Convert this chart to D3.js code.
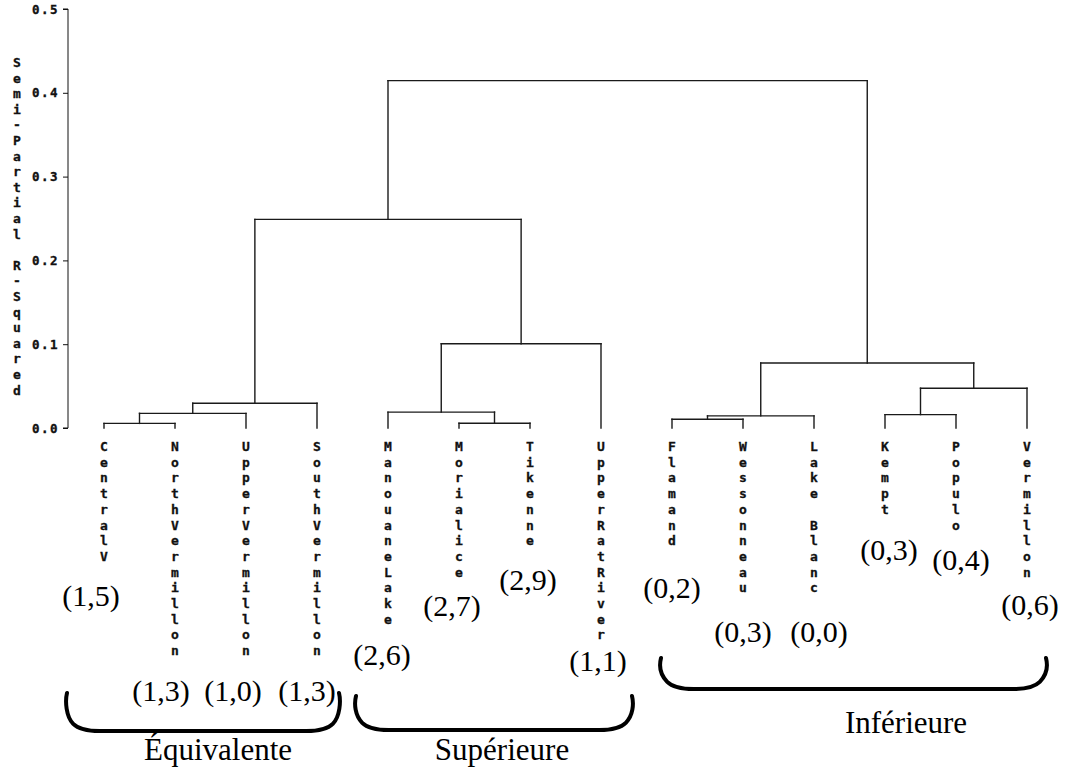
<!DOCTYPE html>
<html><head><meta charset="utf-8">
<script src="https://cdn.jsdelivr.net/npm/d3@7"></script>
<style>
body{margin:0;background:#fff;}
svg{display:block;}
.mono{font-family:"DejaVu Sans Mono",monospace;font-weight:bold;}
.serif{font-family:"Liberation Serif","Times New Roman",serif;}
</style></head>
<body>
<script>
// ---- data ----
const leaves = ["CentralV","NorthVermillon","UpperVermillon","SouthVermillon",
  "ManouaneLake","Morialice","Tikenne","UpperRatRiver",
  "Flamand","Wessonneau","Lake Blanc","Kempt","Populo","Vermillon"];
// merges: [childA, childB, semi-partial R-squared]; new node ids start at leaves.length
const mergeA = [0, 14, 15, 5, 4, 18, 16, 8, 21, 11, 23, 22, 20];
const mergeB = [1, 2, 3, 6, 17, 7, 19, 9, 10, 12, 13, 24, 25];
const mergeH = [0.0055, 0.0175, 0.0295, 0.0057, 0.019, 0.1005, 0.249, 0.0105, 0.0145, 0.016, 0.0475, 0.0775, 0.4145];
const yTicks = [0.0, 0.1, 0.2, 0.3, 0.4, 0.5];
const codes = ["(1,5)","(1,3)","(1,0)","(1,3)","(2,6)","(2,7)","(2,9)","(1,1)","(0,2)","(0,3)","(0,0)","(0,3)","(0,4)","(0,6)"];
const groupNames = ["Équivalente","Supérieure","Inférieure"];

// ---- layout (not data) ----
const W = 1065, H = 774;
const codeDx = [-13,-14,-13,-10,-6,-7,-2,-3,0,0,5,4,5,3];
const codeY = [606,701,701,701,665,616,590,671,598,642,642,560,570,615];
const braceBox = [[66,340,693,731],[355,633,696,730],[660,1047,658,689]];
const nameXY = [[218,760],[502,760],[906,733]];

const svg = d3.select("body").append("svg").attr("width",W).attr("height",H);
const x = d3.scalePoint().domain(d3.range(leaves.length)).range([104,1027]);
const y = d3.scaleLinear().domain([0,0.5]).range([428,9]);

// axis
const axis = d3.axisLeft(y).tickValues(yTicks).tickFormat(d3.format(".1f")).tickSize(5).tickPadding(4);
const gA = svg.append("g").attr("transform","translate(68,0)").call(axis);
gA.select(".domain").attr("stroke","#111").attr("d","M-5,9H0V428H-5");
gA.selectAll(".tick line").attr("stroke","#111");
gA.selectAll(".tick text").attr("class","mono").attr("font-size",12.5).attr("letter-spacing","1.5px")
  .attr("fill","#111").attr("stroke","#111").attr("stroke-width",0.35);

// y title stacked letters
const title = "Semi-Partial R-Squared".split("");
svg.append("g").selectAll("text").data(title).join("text")
  .attr("class","mono").attr("font-size",13).attr("fill","#111")
  .attr("stroke","#111").attr("stroke-width",0.3)
  .attr("text-anchor","middle").attr("x",17)
  .attr("y",(d,i)=>67+i*15.6).text(d=>d);

// dendrogram
const nodeX = leaves.map((d,i)=>x(i));
const nodeH = leaves.map(()=>0);
const segs = [];
mergeA.forEach((a,k)=>{
  const b = mergeB[k], h = mergeH[k];
  segs.push([nodeX[a], y(nodeH[a]), nodeX[a], y(h)]);
  segs.push([nodeX[b], y(nodeH[b]), nodeX[b], y(h)]);
  segs.push([nodeX[a], y(h), nodeX[b], y(h)]);
  nodeX.push((nodeX[a]+nodeX[b])/2);
  nodeH.push(h);
});
svg.append("g").selectAll("line").data(segs).join("line")
  .attr("x1",d=>d[0]).attr("y1",d=>d[1]).attr("x2",d=>d[2]).attr("y2",d=>d[3])
  .attr("stroke","#1a1a1a").attr("stroke-width",1.4).attr("stroke-linecap","square");

// leaf labels stacked vertically
const gL = svg.append("g");
leaves.forEach((name,i)=>{
  gL.selectAll(null).data(name.split("")).join("text")
    .attr("class","mono").attr("font-size",13).attr("fill","#111")
    .attr("stroke","#111").attr("stroke-width",0.3)
    .attr("text-anchor","middle").attr("x",x(i))
    .attr("y",(d,j)=>451+j*15.7).text(d=>d);
});

// codes
svg.append("g").selectAll("text").data(codes).join("text")
  .attr("class","serif").attr("font-size",30).attr("fill","#000")
  .attr("text-anchor","middle")
  .attr("x",(d,i)=>x(i)+codeDx[i]).attr("y",(d,i)=>codeY[i]).text(d=>d);

// braces
groupNames.forEach((g,k)=>{
  const [x0,x1,t,b] = braceBox[k], r = 24;
  const p = d3.path();
  p.moveTo(x0+1,t);
  p.bezierCurveTo(x0-1,t+8,x0,b-r*0.6,x0+r*0.3,b-r*0.3);
  p.quadraticCurveTo(x0+r*0.6,b,x0+r*1.4,b);
  p.lineTo(x1-r*1.4,b);
  p.quadraticCurveTo(x1-r*0.6,b,x1-r*0.3,b-r*0.3);
  p.bezierCurveTo(x1,b-r*0.6,x1+1,t+8,x1-1,t);
  svg.append("path").attr("d",p.toString()).attr("fill","none")
    .attr("stroke","#000").attr("stroke-width",4).attr("stroke-linecap","round");
  svg.append("text").attr("class","serif").attr("font-size",31).attr("fill","#000")
    .attr("text-anchor","middle").attr("x",nameXY[k][0]).attr("y",nameXY[k][1]).text(g);
});
</script>
</body></html>
